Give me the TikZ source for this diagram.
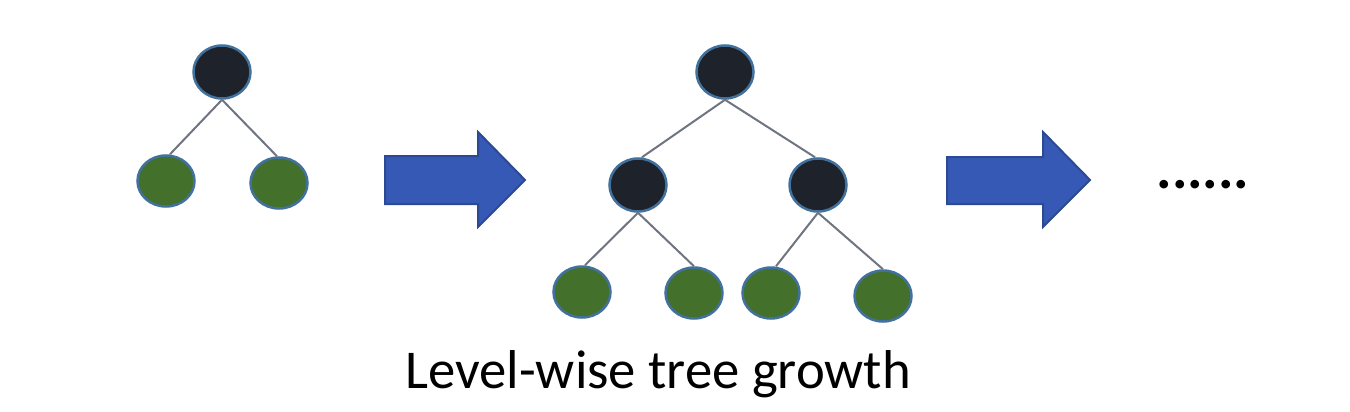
\documentclass[tikz,border=0pt]{standalone}
\usepackage{fontspec}
\setmainfont{Carlito}
\usetikzlibrary{shapes.geometric}
\definecolor{darknode}{HTML}{1E222A}
\definecolor{leafgreen}{HTML}{43702B}
\definecolor{nodeedge}{HTML}{41719C}
\definecolor{edgegray}{HTML}{6E7480}
\definecolor{arrowfill}{HTML}{3659B6}
\definecolor{arrowedge}{HTML}{2C4A93}
\tikzset{
  inner/.style={ellipse, fill=darknode, draw=nodeedge, line width=2.5pt, minimum width=57pt, minimum height=53pt, inner sep=0pt},
  leaf/.style={ellipse, fill=leafgreen, draw=nodeedge, line width=2.5pt, minimum width=57pt, minimum height=51pt, inner sep=0pt},
  link/.style={draw=edgegray, line width=2pt},
  bigarrow/.style={fill=arrowfill, draw=arrowedge, line width=2pt, line join=miter},
  caption/.style={font=\fontsize{54.7}{60}\selectfont, text=black, inner sep=0pt}
}
\begin{document}
\begin{tikzpicture}[x=1pt,y=-1pt]
\useasboundingbox (0,0) rectangle (1350,412);
% first tree
\node[inner] (a) at (222,72) {};
\node[leaf] (a1) at (166,181) {};
\node[leaf] (a2) at (279,183) {};
\draw[link] (a.south) -- ([xshift=4pt]a1.north);
\draw[link] (a.south) -- ([xshift=-2pt]a2.north);
% arrow 1
\draw[bigarrow] (385,156) -- (478,156) -- (478,132) -- (525,180) -- (478,227) -- (478,204) -- (385,204) -- cycle;
% second tree
\node[inner] (b) at (725,72) {};
\node[inner] (bl) at (638,185) {};
\node[inner] (br) at (818,185) {};
\node[leaf] (b1) at (582,292) {};
\node[leaf] (b2) at (694,293) {};
\node[leaf] (b3) at (771,293) {};
\node[leaf] (b4) at (883,296) {};
\draw[link] (b.south) -- ([xshift=4pt]bl.north);
\draw[link] (b.south) -- ([xshift=-3pt]br.north);
\draw[link] (bl.south) -- ([xshift=3pt]b1.north);
\draw[link] (bl.south) -- (b2.north);
\draw[link] (br.south) -- ([xshift=5pt]b3.north);
\draw[link] (br.south) -- (b4.north);
% arrow 2
\draw[bigarrow] (947,157) -- (1043,157) -- (1043,132) -- (1090,180) -- (1043,227) -- (1043,204) -- (947,204) -- cycle;
% dots
\node[caption, anchor=base, font=\fontsize{58}{64}\selectfont\bfseries] (dots) at (1203,188) {......};
% caption
\node[caption, anchor=base] (cap) at (658,388) {Level-wise tree growth};
\end{tikzpicture}
\end{document}
